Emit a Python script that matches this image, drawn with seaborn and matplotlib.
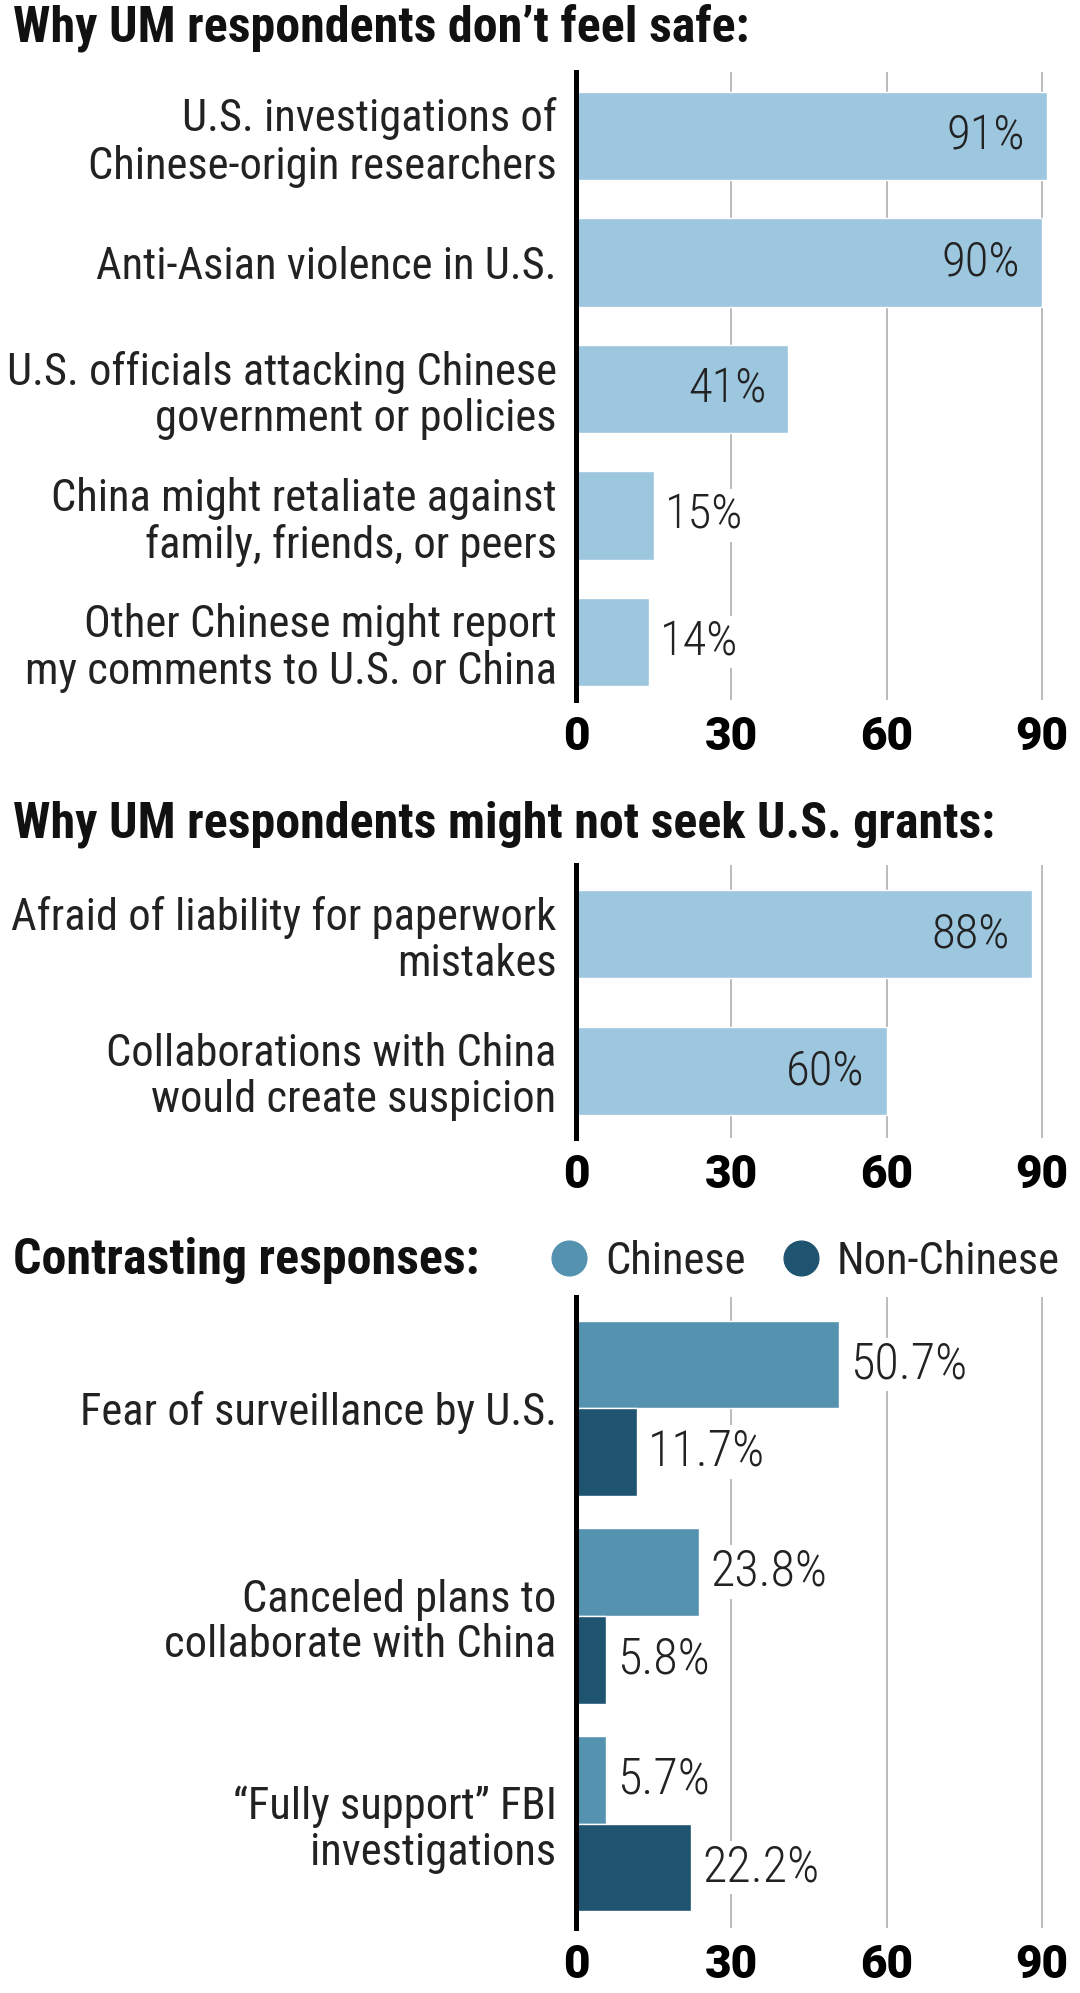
import pandas as pd
import matplotlib.pyplot as plt
from matplotlib.lines import Line2D
import seaborn as sns

# --- data ---
safety_items = [
    "U.S. investigations of\nChinese-origin researchers",
    "Anti-Asian violence in U.S.",
    "U.S. officials attacking Chinese\ngovernment or policies",
    "China might retaliate against\nfamily, friends, or peers",
    "Other Chinese might report\nmy comments to U.S. or China",
]
safety_pct = [91, 90, 41, 15, 14]

grant_items = [
    "Afraid of liability for paperwork\nmistakes",
    "Collaborations with China\nwould create suspicion",
]
grant_pct = [88, 60]

contrast_items = [
    "Fear of surveillance by U.S.",
    "Canceled plans to\ncollaborate with China",
    "\u201cFully support\u201d FBI\ninvestigations",
]
groups = ["Chinese", "Non-Chinese"]
chinese_pct = [50.7, 23.8, 5.7]
non_chinese_pct = [11.7, 5.8, 22.2]
x_ticks = [0, 30, 60, 90]

# --- style ---
LIGHT = "#9dc6df"
CHN = "#5592b0"
NONCHN = "#1e5470"
TEXT = "#222222"
COND = ["Roboto Condensed", "Liberation Sans", "DejaVu Sans"]
WIDE = ["Roboto", "Liberation Sans", "DejaVu Sans"]

sns.set_style("white")
plt.rcParams['font.family'] = COND

W, H = 1080, 1993
fig = plt.figure(figsize=(W / 100, H / 100), dpi=100)

X0 = 576      # pixel position of x = 0
UNIT = 5.18   # pixels per percentage point
XMAX = 97

LABEL_SIZE = 32
VALUE_SIZE = 35
TITLE_SIZE = 36


def add_panel(top_px, bottom_px):
    return fig.add_axes([X0 / W, 1 - bottom_px / H, XMAX * UNIT / W, (bottom_px - top_px) / H])


def style_axis(ax, ylim):
    ax.set_xlim(0, XMAX)
    ax.set_ylim(*ylim)
    ax.set_xticks(x_ticks)
    ax.set_xticklabels([str(t) for t in x_ticks], fontsize=33, fontweight="heavy",
                       family=WIDE, color="black")
    ax.tick_params(axis="x", length=0, pad=11)
    ax.tick_params(axis="y", length=0, pad=14)
    for t in ax.get_yticklabels():
        t.set_fontsize(LABEL_SIZE)
        t.set_fontweight("normal")
        t.set_color(TEXT)
        t.set_linespacing(1.12)
    ax.grid(axis="x", color="#b5b5b5", lw=1.3)
    ax.grid(axis="y", visible=False)
    ax.set_axisbelow(True)
    for side in ["top", "right", "bottom"]:
        ax.spines[side].set_visible(False)
    ax.spines["left"].set_color("black")
    ax.spines["left"].set_linewidth(3.6)
    ax.spines["left"].set_zorder(5)
    ax.set_xlabel("")
    ax.set_ylabel("")


def label_bars(ax, container, values, fmt, inside_min=None, size=VALUE_SIZE):
    inside = [fmt % v if inside_min is not None and v > inside_min else "" for v in values]
    outside = [fmt % v if inside_min is None or v <= inside_min else "" for v in values]
    for t in ax.bar_label(container, labels=inside, padding=-16, fontsize=size,
                          color=TEXT, fontweight="light"):
        t.set_ha("right")
    ax.bar_label(container, labels=outside, padding=8, fontsize=size, color=TEXT,
                 fontweight="light", bbox=dict(fc="white", ec="none", pad=2))


def panel_title(y_px, text):
    fig.text(13 / W, 1 - y_px / H, text, fontsize=TITLE_SIZE, fontweight="bold",
             va="center", ha="left", color="#111111")


# Panel 1
ax1 = add_panel(72, 700)
sns.barplot(x=safety_pct, y=safety_items, orient="h", color=LIGHT, width=0.7,
            saturation=1, ax=ax1)
style_axis(ax1, (4.46, -0.506))
label_bars(ax1, ax1.containers[0], safety_pct, "%d%%", inside_min=30)
panel_title(28, "Why UM respondents don\u2019t feel safe:")

# Panel 2
ax2 = add_panel(865, 1138)
sns.barplot(x=grant_pct, y=grant_items, orient="h", color=LIGHT, width=0.642,
            saturation=1, ax=ax2)
style_axis(ax2, (1.49, -0.504))
label_bars(ax2, ax2.containers[0], grant_pct, "%d%%", inside_min=30)
panel_title(824, "Why UM respondents might not seek U.S. grants:")

# Panel 3
contrast = pd.DataFrame({
    "item": contrast_items * 2,
    "group": [groups[0]] * 3 + [groups[1]] * 3,
    "pct": chinese_pct + non_chinese_pct,
})
ax3 = add_panel(1297, 1928)
sns.barplot(data=contrast, x="pct", y="item", hue="group", orient="h",
            palette=[CHN, NONCHN], width=0.845, saturation=1, legend=False, ax=ax3)
style_axis(ax3, (2.502, -0.536))
for cont, vals in zip(ax3.containers, [chinese_pct, non_chinese_pct]):
    label_bars(ax3, cont, vals, "%.1f%%", size=36)
panel_title(1260, "Contrasting responses:")

handles = [Line2D([], [], marker="o", ls="none", markersize=25, color=c) for c in [CHN, NONCHN]]
leg = fig.legend(handles, groups, loc="center left", bbox_to_anchor=(547 / W, 1 - 1262 / H),
                 ncol=2, frameon=False, handletextpad=0.3,
                 columnspacing=0.75, handlelength=1.0, borderpad=0, borderaxespad=0,
                 labelcolor=TEXT, prop={"family": COND, "weight": "normal", "size": LABEL_SIZE})

fig.savefig("out.png", dpi=100)
